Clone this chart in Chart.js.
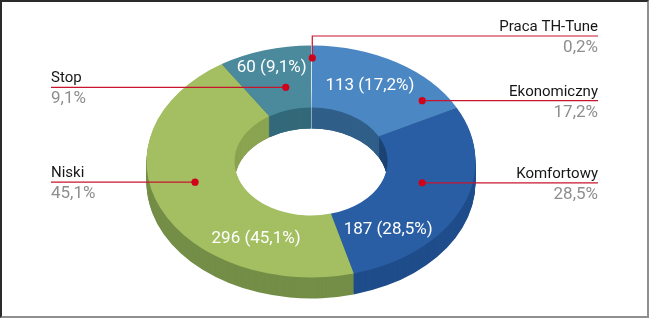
<!DOCTYPE html>
<html>
<head>
<meta charset="utf-8">
<script src="https://cdn.jsdelivr.net/npm/chart.js@4.4.0/dist/chart.umd.min.js"></script>
<style>
  html, body { margin:0; padding:0; background:#fff; }
  #wrap  { position:relative; width:650px; height:319px; }
  #frame { position:absolute; left:0; top:0; width:649px; height:318px; box-sizing:border-box;
           border-left:2px solid #2b2b2b; border-top:2px solid #2b2b2b;
           border-right:2px solid #8f8f8f; border-bottom:2px solid #8f8f8f; pointer-events:none; }
</style>
</head>
<body>
<div id="wrap">
  <canvas id="donut" width="650" height="319"></canvas>
  <div id="frame"></div>
</div>
<script>
// ── Data ──────────────────────────────────────────────────────
const labels = ['Praca TH-Tune', 'Ekonomiczny', 'Komfortowy', 'Niski', 'Stop'];
const counts = [1, 113, 187, 296, 60];

// ── Styles ────────────────────────────────────────────────────
const topColors   = ['#d3e3f0', '#4a87c3', '#2a5ea4', '#a3bf62', '#4b8a9c'];
const wallColors  = ['#a9c2d6', '#2f5f8b', '#1f4d8b', '#748e47', '#356c7d'];
const holeColors  = ['#b9cfe0', '#305f89', '#1c4474', '#8ba451', '#33697a'];

const TILT  = 0.705;   // vertical squash of the ring
const DEPTH = 21;      // extrusion in px
const FONT  = "Roboto, 'Liberation Sans', sans-serif";

const total  = counts.reduce((a, b) => a + b, 0);
const shares = counts.map(v => (v / total * 100).toFixed(1).replace('.', ',') + '%');

// callouts: angle from 12 o'clock (deg) + position across the ring (0 inner .. 1 outer)
const callouts = [
  { side:'right', deg:0.5,   frac:0.80, elbowY:36 },
  { side:'right', deg:52.2,  frac:0.73 },
  { side:'right', deg:105.2, frac:0.44 },
  { side:'left',  deg:255.8, frac:0.49 },
  { side:'left',  deg:346.5, frac:0.36 },
];
const valueSpots = [null,
  { deg:28.6,  frac:0.53 },
  { deg:141.5, frac:0.54 },
  { deg:206.7, frac:0.52 },
  { deg:343.6, frac:0.71 },
];

function ringPath(ctx, a) {
  ctx.beginPath();
  ctx.arc(a.x, a.y, a.outerRadius, a.startAngle, a.endAngle);
  ctx.arc(a.x, a.y, a.innerRadius, a.endAngle, a.startAngle, true);
  ctx.closePath();
}

function tilt(ctx, cy, d) {
  ctx.setTransform(1, 0, 0, TILT, 0, cy * (1 - TILT) + d);
}

function ringPoint(a, deg, frac) {
  const ang = (deg - 90) * Math.PI / 180;
  const r = a.innerRadius + frac * (a.outerRadius - a.innerRadius);
  return { x: a.x + r * Math.cos(ang), y: a.y + r * Math.sin(ang) * TILT };
}

function arcsOf(chart) {
  return chart.getDatasetMeta(0).data.map(el =>
    el.getProps(['x', 'y', 'startAngle', 'endAngle', 'innerRadius', 'outerRadius'], true));
}

const tiltPlugin = {
  id: 'tilt3d',
  beforeDatasetsDraw(chart) {
    const ctx  = chart.ctx;
    const arcs = arcsOf(chart);
    const { x: cx, y: cy, innerRadius: rIn } = arcs[0];

    ctx.save();
    // outer wall
    for (let d = DEPTH; d >= 1; d--) {
      tilt(ctx, cy, d);
      arcs.forEach((a, i) => { ringPath(ctx, a); ctx.fillStyle = wallColors[i]; ctx.fill(); });
    }
    // inner wall, seen through the hole
    tilt(ctx, cy, 0);
    ctx.beginPath();
    ctx.arc(cx, cy, rIn, 0, Math.PI * 2);
    ctx.clip();
    for (let d = DEPTH; d >= 1; d--) {
      tilt(ctx, cy, d);
      arcs.forEach((a, i) => { ringPath(ctx, a); ctx.fillStyle = holeColors[i]; ctx.fill(); });
    }
    ctx.restore();

    // top face is drawn by Chart.js under the squash
    ctx.save();
    tilt(ctx, cy, 0);
  },
  afterDatasetsDraw(chart) {
    chart.ctx.restore();
  },
  afterDraw(chart) {
    const ctx  = chart.ctx;
    const arcs = arcsOf(chart);
    const L = 51, R = 598;

    ctx.save();
    // value labels on the ring
    ctx.font = `17px ${FONT}`;
    ctx.fillStyle = '#ffffff';
    ctx.textAlign = 'center';
    ctx.textBaseline = 'middle';
    valueSpots.forEach((s, i) => {
      if (!s) return;
      const p = ringPoint(arcs[i], s.deg, s.frac);
      ctx.fillText(`${counts[i]} (${shares[i]})`, p.x, p.y);
    });

    // callouts
    callouts.forEach((c, i) => {
      const p = ringPoint(arcs[i], c.deg, c.frac);
      const lineY = c.elbowY ?? p.y;
      const tx = c.side === 'right' ? R : L;

      ctx.strokeStyle = '#c8142f';
      ctx.lineWidth = 1.2;
      ctx.beginPath();
      ctx.moveTo(tx, lineY);
      ctx.lineTo(p.x, lineY);
      if (c.elbowY != null) ctx.lineTo(p.x, p.y);
      ctx.stroke();

      ctx.fillStyle = '#d0021b';
      ctx.beginPath();
      ctx.arc(p.x, p.y, 3.6, 0, Math.PI * 2);
      ctx.fill();

      ctx.textAlign = c.side === 'right' ? 'right' : 'left';
      ctx.textBaseline = 'alphabetic';
      ctx.font = `15px ${FONT}`;
      ctx.fillStyle = '#161616';
      ctx.fillText(labels[i], tx, lineY - 5);
      ctx.font = `17px ${FONT}`;
      ctx.fillStyle = '#8e8e8e';
      ctx.fillText(shares[i], tx, lineY + 16);
    });
    ctx.restore();
  }
};

new Chart(document.getElementById('donut'), {
  type: 'doughnut',
  data: {
    labels,
    datasets: [{
      data:            counts,
      backgroundColor: topColors,
      borderWidth:     0,
      clip:            false,
    }]
  },
  options: {
    responsive: false,
    animation:  false,
    events:     [],
    radius:     164.5,
    cutout:     '46.5%',
    layout:     { padding: { left:0, right:28, top:4, bottom:0 } },
    plugins: {
      legend:  { display: false },
      tooltip: { enabled: false },
    }
  },
  plugins: [tiltPlugin]
});
</script>
</body>
</html>
